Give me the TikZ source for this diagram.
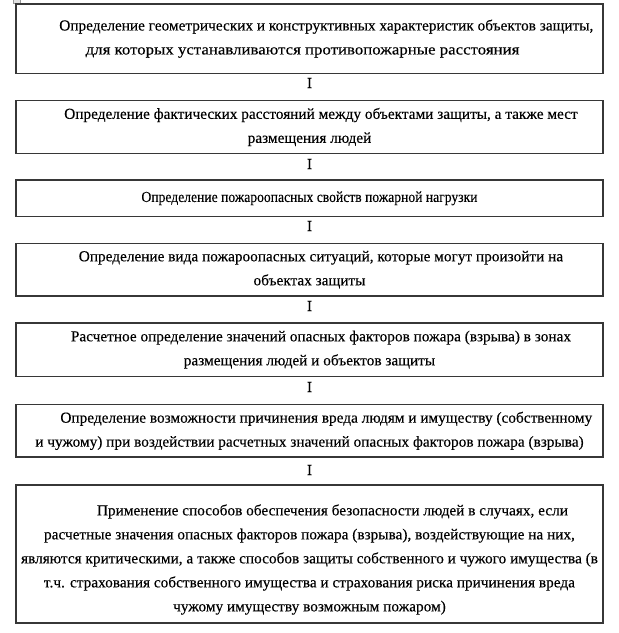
\documentclass[tikz,border=0pt]{standalone}
\usepackage{fontspec}
\setmainfont{Liberation Serif}[FakeBold=0.25]
\definecolor{boxline}{RGB}{55,55,55}
\definecolor{iconfill}{RGB}{225,225,225}
\definecolor{icongray}{RGB}{150,150,150}
\begin{document}
\begin{tikzpicture}[x=1pt,y=1pt,
  stepbox/.style={draw=boxline, line width=1.1pt, rectangle, minimum width=587pt,
    inner sep=0pt, align=center, font=\fontsize{15.3}{24}\selectfont},
  sep/.style={inner sep=0pt, font=\fontsize{15.3}{24}\selectfont}]
\useasboundingbox (0,0) rectangle (619,-633);
\fill[white] (0,0) rectangle (619,-633);
\draw[icongray, fill=iconfill, line width=0.6pt] (13,1) rectangle (20,-3);

\node[stepbox, minimum height=69.3pt] (b1) at (309.5,-38.65)
  {\hspace*{2.2em}Определение геометрических и конструктивных характеристик объектов защиты,\\
   \scalebox{1.1}[1]{для которых устанавливаются противопожарные расстояния}\hspace*{14pt}};
\node[sep] (i1) at (309.5,-83) {I};
\node[stepbox, minimum height=52.6pt] (b2) at (309.5,-127)
  {\hspace*{1.5em}Определение фактических расстояний между объектами защиты, а также мест\\
   размещения людей};
\node[sep] (i2) at (309.5,-164) {I};
\node[stepbox, minimum height=36.7pt] (b3) at (309.5,-198.35)
  {\scalebox{0.89}[1]{Определение пожароопасных свойств пожарной нагрузки}};
\node[sep] (i3) at (309.5,-226) {I};
\node[stepbox, minimum height=52.7pt] (b4) at (309.5,-269.65)
  {\hspace*{1.5em}Определение вида пожароопасных ситуаций, которые могут произойти на\\
   объектах защиты};
\node[sep] (i4) at (309.5,-306) {I};
\node[stepbox, minimum height=53.3pt] (b5) at (309.5,-349.65)
  {\hspace*{1.5em}Расчетное определение значений опасных факторов пожара (взрыва) в зонах\\
   размещения людей и объектов защиты};
\node[sep] (i5) at (309.5,-387) {I};
\node[stepbox, minimum height=52.3pt] (b6) at (309.5,-430.85)
  {\hspace*{2.2em}Определение возможности причинения вреда людям и имуществу (собственному\\
   и чужому) при воздействии расчетных значений опасных факторов пожара (взрыва)};
\node[sep] (i6) at (309.5,-470) {I};
\node[stepbox, minimum height=138pt] (b7) at (309.5,-554)
  {\rule{0pt}{22pt}\hspace*{3em}Применение способов обеспечения безопасности людей в случаях, если\\
   расчетные значения опасных факторов пожара (взрыва), воздействующие на них,\\
   являются критическими, а также способов защиты собственного и чужого имущества (в\\
   т.ч. страхования собственного имущества и страхования риска причинения вреда\\
   чужому имуществу возможным пожаром)};
\end{tikzpicture}
\end{document}
